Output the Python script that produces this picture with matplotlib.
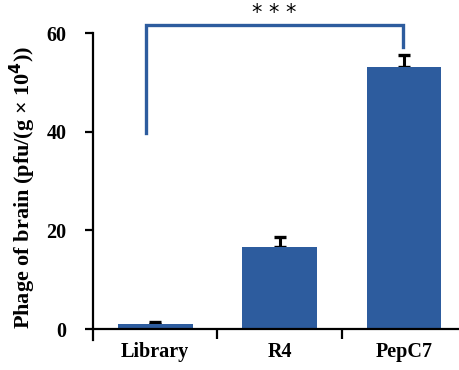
import matplotlib
matplotlib.use("Agg")
import matplotlib.pyplot as plt
import numpy as np

categories = ["Library", "R4", "PepC7"]
values = [1.1, 16.6, 53.1]
errors = [0.4, 2.0, 2.4]
yticks = [0, 20, 40, 60]
sig_label = "* * *"
bracket_left_y = 39.8
bracket_top_y = 61.7
bracket_right_y = 57.2

plt.rcParams['font.family'] = ['Liberation Serif', 'DejaVu Serif']

fig = plt.figure(figsize=(4.6, 3.7), dpi=100)
ax = fig.add_axes([93/460, 1-340/370, 1-93/460, (340-3.4)/370])

x = np.arange(len(categories))
bar_color = "#2D5C9E"
ax.bar(x, values, width=0.6, color=bar_color, zorder=2)
ax.errorbar(x, values, yerr=[np.zeros(len(errors)), errors], fmt='none',
            ecolor='black', elinewidth=2.2, capsize=4, capthick=2.4, zorder=1)

ax.set_xlim(-0.5, 2.45)
ax.set_ylim(-2.2, 66)

for s in ['top', 'right']:
    ax.spines[s].set_visible(False)
ax.spines['bottom'].set_position(('data', 0))
ax.spines['left'].set_bounds(-2.2, 60)
ax.spines['left'].set_linewidth(1.6)
ax.spines['bottom'].set_linewidth(1.6)

ax.set_yticks(yticks)
ax.set_yticklabels([str(t) for t in yticks], fontsize=14.5, fontweight='bold')
ax.tick_params(axis='y', direction='out', length=6, width=1.6, pad=13)

ax.set_xticks(x)
ax.set_xticklabels(categories, fontsize=14.5, fontweight='bold')
ax.tick_params(axis='x', which='major', length=0, pad=9)
ax.set_xticks([0.5, 1.5], minor=True)
ax.tick_params(axis='x', which='minor', direction='out', length=7, width=1.6)

ax.set_ylabel("Phage of brain (pfu/(g × 10$^{\\mathbf{4}}$))", fontsize=16,
              fontweight='bold')
ax.yaxis.set_label_coords(-0.15, 0.452)

lx = -0.076
rx = 1.99
ax.plot([lx, lx, rx, rx], [bracket_left_y, bracket_top_y, bracket_top_y, bracket_right_y],
        color=bar_color, lw=2.4, solid_joinstyle='miter', zorder=3)
ax.text((lx + rx) / 2, 64.0, sig_label, ha='center', va='center',
        fontsize=15, family='DejaVu Sans')

fig.savefig("out.png", dpi=100)
